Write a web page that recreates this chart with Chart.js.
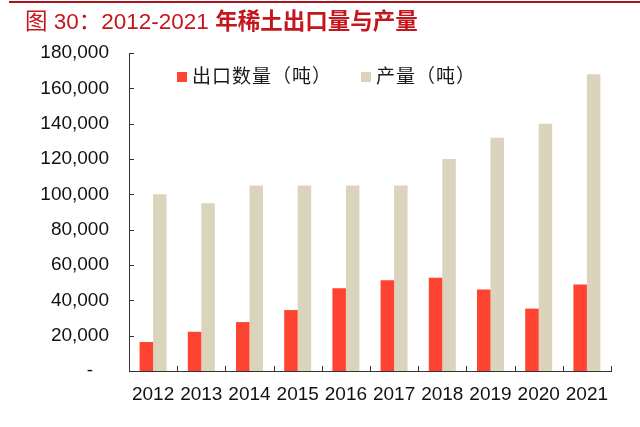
<!DOCTYPE html>
<html>
<head>
<meta charset="utf-8">
<script src="https://cdn.jsdelivr.net/npm/chart.js@4.4.1/dist/chart.umd.min.js"></script>
<style>
    body { margin: 0; background: #fff; }
    #wrap { position: relative; width: 640px; height: 427px; overflow: hidden; }
    #topline { position: absolute; left: 9px; top: 1px; width: 631px; height: 2px; background: #a8121b; }
    #title { position: absolute; left: 25px; top: 6px; font-size: 22.5px; line-height: 26px; color: #c4161c; white-space: nowrap;
             font-family: "Liberation Sans", "Noto Sans CJK SC", sans-serif; }
    #title b { font-family: "Noto Sans CJK SC", sans-serif; font-weight: 700; }
    .leg { position: absolute; top: 61px; font-size: 19px; letter-spacing: 1px; color: #1a1a1a; white-space: nowrap;
           font-family: "Noto Sans CJK SC", sans-serif; }
    .leg i { display: inline-block; width: 10px; height: 10px; margin-right: 5px; vertical-align: 1px; }
</style>
</head>
<body>
<div id="wrap">
    <div id="topline"></div>
    <div id="title">图 30：2012-2021 <b>年稀土出口量与产量</b></div>
    <canvas id="chart" width="640" height="427"></canvas>
    <div class="leg" style="left:177px"><i style="background:#fe4431"></i>出口数量（吨）</div>
    <div class="leg" style="left:361px"><i style="background:#dcd3bd"></i>产量（吨）</div>
</div>
<script>
const years = ["2012", "2013", "2014", "2015", "2016", "2017", "2018", "2019", "2020", "2021"];
const exportTons = [16400, 22200, 27700, 34500, 46800, 51300, 52800, 46200, 35300, 48900];
const outputTons = [100000, 95000, 105000, 105000, 105000, 105000, 120000, 132000, 140000, 168000];
const yTicks = [0, 20000, 40000, 60000, 80000, 100000, 120000, 140000, 160000, 180000];

// small inward tick marks, like the office-style original
const innerTicks = {
    id: "innerTicks",
    afterDatasetsDraw(chart) {
        const { ctx, chartArea: a, scales } = chart;
        ctx.save();
        ctx.strokeStyle = "#333";
        ctx.lineWidth = 1;
        ctx.beginPath();
        for (const v of yTicks) {
            const y = Math.round(scales.y.getPixelForValue(v)) + 0.5;
            ctx.moveTo(a.left, y);
            ctx.lineTo(a.left + 5, y);
        }
        const step = (a.right - a.left) / years.length;
        for (let i = 1; i <= years.length; i++) {
            const x = Math.round(a.left + i * step) + 0.5;
            ctx.moveTo(x, a.bottom);
            ctx.lineTo(x, a.bottom - 5);
        }
        ctx.stroke();
        ctx.restore();
    }
};

new Chart(document.getElementById("chart"), {
    type: "bar",
    data: {
        labels: years,
        datasets: [
            { label: "出口数量（吨）", data: exportTons, backgroundColor: "#fe4431" },
            { label: "产量（吨）", data: outputTons, backgroundColor: "#dcd3bd" }
        ]
    },
    options: {
        responsive: false,
        animation: false,
        devicePixelRatio: 1,
        layout: { padding: { top: 53, right: 29, left: 0, bottom: 0 } },
        datasets: { bar: { categoryPercentage: 0.56, barPercentage: 1.0 } },
        plugins: { legend: { display: false }, tooltip: { enabled: false } },
        scales: {
            x: {
                grid: { display: false, drawTicks: false },
                border: { display: true, color: "#333" },
                ticks: { color: "#111", padding: 12, maxRotation: 0,
                         font: { family: "Liberation Sans", size: 19 } },
                afterFit(s) { s.height = 56; }
            },
            y: {
                min: 0, max: 180000,
                afterBuildTicks(s) { s.ticks = yTicks.map(v => ({ value: v })); },
                grid: { display: false, drawTicks: false },
                border: { display: true, color: "#333" },
                ticks: {
                    color: "#111", padding: 20,
                    font: { family: "Liberation Sans", size: 19 },
                    callback: v => v === 0 ? "-   " : v.toLocaleString("en-US")
                },
                afterFit(s) { s.width = 129; }
            }
        }
    },
    plugins: [innerTicks]
});
</script>
</body>
</html>
